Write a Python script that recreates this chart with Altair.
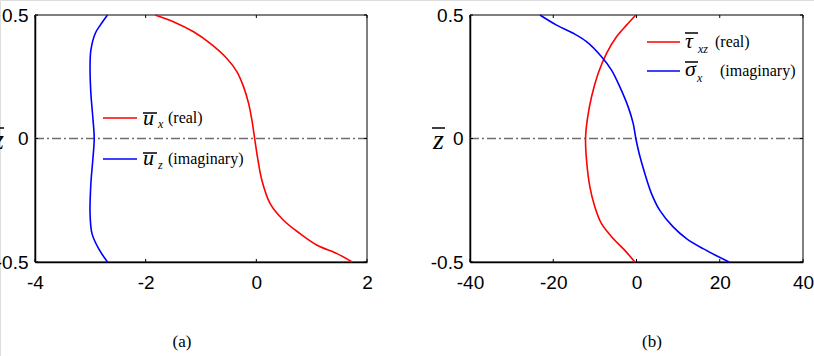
import altair as alt
import pandas as pd

# ---------------- data: panel (a) ----------------
za_real = [0.5, 0.473, 0.432, 0.385, 0.324, 0.27, 0.209, 0.142, 0.074, 0.0,
           -0.074, -0.169, -0.264, -0.331, -0.385, -0.432, -0.466, -0.5]
ux_real = [-1.83, -1.50, -1.135, -0.834, -0.532, -0.35, -0.23, -0.14, -0.08, -0.03,
           0.02, 0.10, 0.25, 0.49, 0.79, 1.10, 1.46, 1.73]
za_imag = [0.5, 0.459, 0.426, 0.358, 0.291, 0.182, 0.088, 0.0,
           -0.088, -0.182, -0.304, -0.385, -0.446, -0.5]
uz_imag = [-2.69, -2.82, -2.91, -2.99, -3.005, -2.99, -2.956, -2.93,
           -2.956, -2.99, -3.005, -2.97, -2.85, -2.69]

# ---------------- data: panel (b) ----------------
zb_real = [0.5, 0.459, 0.412, 0.345, 0.264, 0.169, 0.074, 0.0,
           -0.088, -0.196, -0.277, -0.345, -0.405, -0.453, -0.5]
tau_real = [-0.16, -2.4, -4.8, -7.2, -9.2, -10.8, -11.84, -12.24,
            -12.0, -11.2, -10.0, -8.4, -5.6, -2.8, -0.4]
zb_imag = [0.5, 0.459, 0.426, 0.392, 0.331, 0.277, 0.209, 0.128, 0.061, 0.0,
           -0.061, -0.142, -0.223, -0.291, -0.358, -0.405, -0.446, -0.5]
sig_imag = [-23.2, -19.2, -15.2, -12.0, -8.4, -6.0, -4.0, -2.0, -0.8, -0.16,
            0.64, 2.0, 3.6, 5.6, 8.8, 12.0, 16.0, 22.24]

xdom_a = [-4, 2]
xdom_b = [-40, 40]
xticks_a = [-4, -2, 0, 2]
xticks_b = [-40, -20, 0, 20, 40]
ydom = [-0.5, 0.5]
yticks = [-0.5, 0, 0.5]

# ---------------- layout (pixels) ----------------
W, H = 814, 356
Y_TOP, Y_BOT = 15, 262
A_RANGE = [35, 367]
B_RANGE = [470, 803]

RED = "#ff0000"
BLUE = "#0000ff"
SANS = "Liberation Sans, Arial, sans-serif"
SERIF = "Liberation Serif, Times New Roman, serif"


def curve_df(zs, xs):
    return pd.DataFrame({"x": xs, "y": zs, "i": list(range(len(zs)))})


def panel(curves, xdom, xrange, xticks, title_dx):
    xs = alt.Scale(domain=xdom, range=xrange, nice=False, zero=False)
    ys = alt.Scale(domain=ydom, range=[Y_BOT, Y_TOP], nice=False, zero=False)
    xaxis = alt.Axis(orient="bottom", offset=-(H - Y_BOT), values=xticks,
                     ticks=False, grid=False, domain=True, domainColor="black",
                     domainWidth=1.5, labelFont=SANS, labelFontSize=19,
                     labelColor="black", labelPadding=11, labelFlush=False,
                     labelOverlap=False, labelExpr="toString(datum.value)",
                     title=None)
    yaxis = alt.Axis(orient="left", offset=-xrange[0], values=yticks,
                     ticks=False, grid=False, domain=True, domainColor="black",
                     domainWidth=1.5, labelFont=SANS, labelFontSize=19,
                     labelColor="black", labelPadding=7, labelFlush=False,
                     labelOverlap=False, labelBaseline="middle",
                     labelExpr="toString(datum.value)",
                     title="z", titleFont=SERIF, titleFontStyle="italic",
                     titleFontWeight="normal", titleFontSize=28, titleColor="black",
                     titleAngle=0, titleX=title_dx, titleY=148,
                     titleAlign="center", titleBaseline="alphabetic")

    def X(f="x"):
        return alt.X(f"{f}:Q", scale=xs, axis=xaxis)

    def Y(f="y"):
        return alt.Y(f"{f}:Q", scale=ys, axis=yaxis)

    layers = []
    # frame box
    box = pd.DataFrame({"x": [xdom[0]], "x2": [xdom[1]], "y": [ydom[0]], "y2": [ydom[1]]})
    layers.append(alt.Chart(box).mark_rect(fillOpacity=0, stroke="black", strokeWidth=1)
                  .encode(x=X(), x2="x2:Q", y=Y(), y2="y2:Q"))
    # dash-dot zero line
    zl = pd.DataFrame({"x": [xdom[0]], "x2": [xdom[1]], "y": [0.0]})
    layers.append(alt.Chart(zl).mark_rule(color="#6e6e6e", strokeWidth=1.5,
                                          strokeDash=[9, 3, 2, 3])
                  .encode(x=X(), x2="x2:Q", y=Y()))
    # inward ticks
    tb = pd.DataFrame({"x": xticks, "y": [ydom[0]] * len(xticks)})
    tt = pd.DataFrame({"x": xticks, "y": [ydom[1]] * len(xticks)})
    tl = pd.DataFrame({"x": [xdom[0]] * len(yticks), "y": yticks})
    tr = pd.DataFrame({"x": [xdom[1]] * len(yticks), "y": yticks})
    layers.append(alt.Chart(tb).mark_rule(color="black", y2Offset=-3)
                  .encode(x=X(), y=Y(), y2="y:Q"))
    layers.append(alt.Chart(tt).mark_rule(color="black", y2Offset=3)
                  .encode(x=X(), y=Y(), y2="y:Q"))
    layers.append(alt.Chart(tl).mark_rule(color="black", x2Offset=3)
                  .encode(x=X(), x2="x:Q", y=Y()))
    layers.append(alt.Chart(tr).mark_rule(color="black", x2Offset=-3)
                  .encode(x=X(), x2="x:Q", y=Y()))
    # curves
    for df, col in curves:
        layers.append(alt.Chart(df).mark_line(color=col, strokeWidth=1.6,
                                              interpolate="catmull-rom")
                      .encode(x=X(), y=Y(), order="i:Q"))
    return alt.layer(*layers)


panel_a = panel([(curve_df(za_real, ux_real), RED), (curve_df(za_imag, uz_imag), BLUE)],
                xdom_a, A_RANGE, xticks_a, -37)
panel_b = panel([(curve_df(zb_real, tau_real), RED), (curve_df(zb_imag, sig_imag), BLUE)],
                xdom_b, B_RANGE, xticks_b, -32)

# ---------------- legends / annotations (pixel placed) ----------------
one = pd.DataFrame({"k": [0]})


def txt(s, x, y, size, italic=False, align="left", baseline="alphabetic", font=SERIF):
    return alt.Chart(one).mark_text(text=s, font=font, fontSize=size,
                                    fontStyle="italic" if italic else "normal",
                                    align=align, baseline=baseline, color="black"
                                    ).encode(x=alt.value(x), y=alt.value(y))


def hline(x1, x2, y, col="black", w=1.5):
    return alt.Chart(one).mark_rule(color=col, strokeWidth=w).encode(
        x=alt.value(x1), x2=alt.value(x2), y=alt.value(y))


annot = [
    # y-axis title overlines
    hline(-8, 4, 128), hline(432, 445, 128),
    # legend (a)
    hline(103, 137, 118, RED, 1.6),
    txt("u", 143, 125, 22, True), hline(143, 157, 113),
    txt("x", 158, 128, 12, True),
    txt("(real)", 168, 123, 16),
    hline(103, 137, 159, BLUE, 1.6),
    txt("u", 143, 165, 22, True), hline(143, 157, 153),
    txt("z", 158, 169, 12, True),
    txt("(imaginary)", 168, 164, 16),
    # legend (b)
    hline(647, 680, 42, RED, 1.6),
    txt("τ", 685, 48, 22, True), hline(685, 698, 33),
    txt("xz", 698, 53, 12, True),
    txt("(real)", 715, 47, 16),
    hline(647, 680, 71, BLUE, 1.6),
    txt("σ", 685, 76, 22, True), hline(685, 698, 62),
    txt("x", 697, 82, 12, True),
    txt("(imaginary)", 720, 76, 16),
    # captions
    txt("(a)", 182, 342, 17, align="center", baseline="middle"),
    txt("(b)", 652, 342, 17, align="center", baseline="middle"),
]

chart = (
    alt.layer(panel_a, panel_b, *annot)
    .resolve_scale(x="independent", y="independent")
    .resolve_axis(x="independent", y="independent")
    .properties(width=W, height=H, padding=0,
                autosize=alt.AutoSizeParams(type="none"))
    .configure_view(stroke=None)
    .configure(background="white")
)

chart.save("out.html", embed_options={"renderer": "svg", "actions": False})
